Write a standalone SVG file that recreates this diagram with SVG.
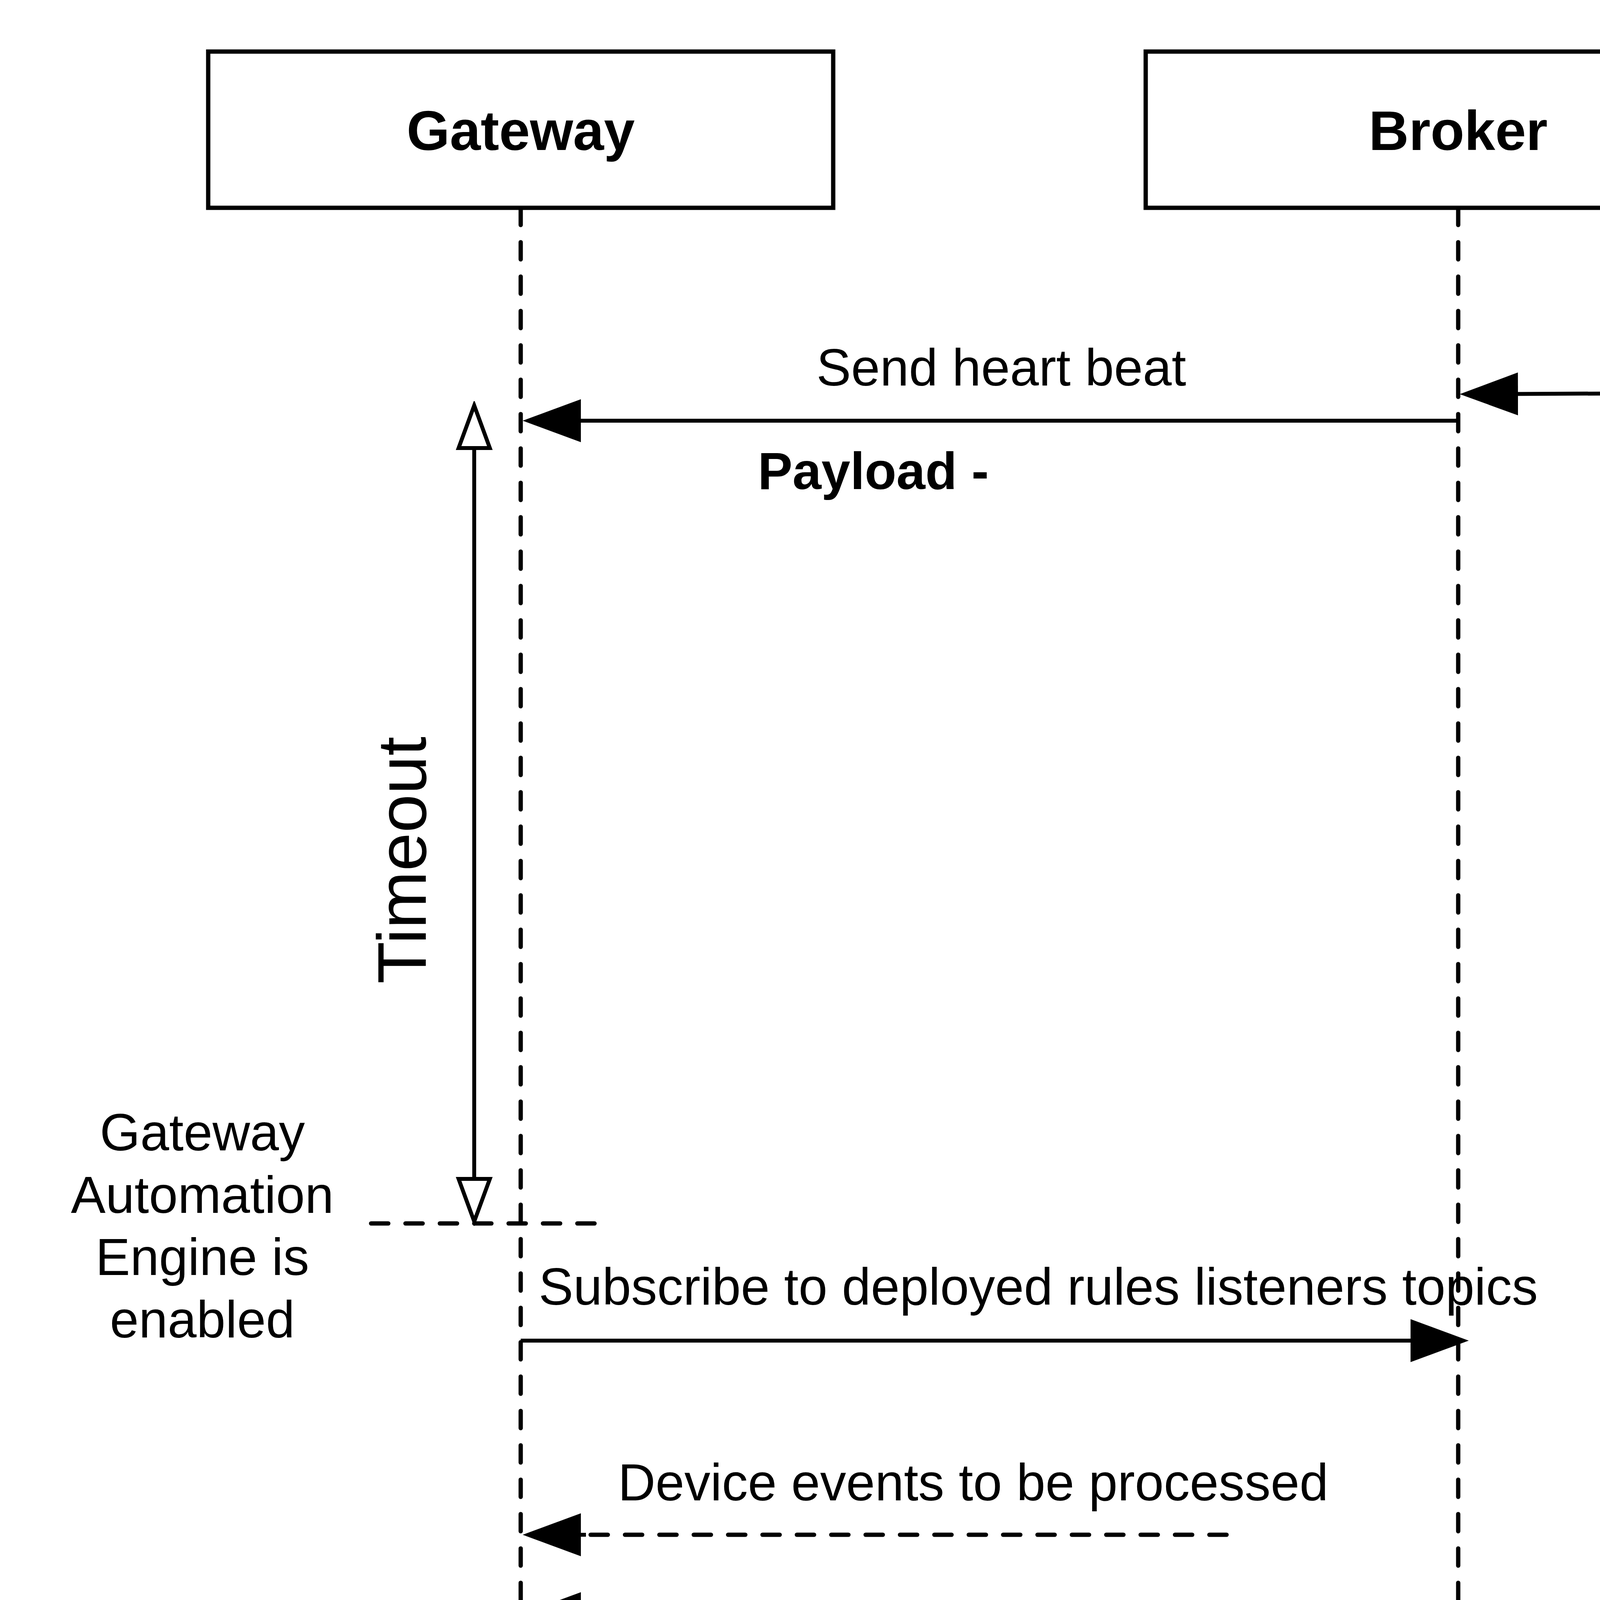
<svg xmlns="http://www.w3.org/2000/svg" width="6755" height="4688" viewBox="0 0 6755 4688">
<style>
text{font-family:"Liberation Sans",Arial,Helvetica,sans-serif;fill:#000}
.title{font-size:142px;font-weight:bold;text-anchor:middle}
.lbl{font-size:133px}
.b{font-weight:bold}
.box{fill:#fff;stroke:#000;stroke-width:11}
.life{fill:none;stroke:#000;stroke-width:11;stroke-dasharray:44 44;stroke-linecap:round}
.msg{fill:none;stroke:#000;stroke-width:10}
.dmsg{fill:none;stroke:#000;stroke-width:11;stroke-dasharray:44 44;stroke-linecap:round}
</style>
<defs>
<marker id="fill" markerUnits="userSpaceOnUse" markerWidth="160" markerHeight="120" viewBox="0 -60 160 120" refX="0" refY="0" orient="auto">
<path d="M0,-55 L149,0 L0,55 Z" fill="#000"/>
</marker>
<marker id="open" markerUnits="userSpaceOnUse" markerWidth="130" markerHeight="110" viewBox="-10 -55 130 110" refX="0" refY="0" orient="auto-start-reverse">
<path d="M0,-40 L109,0 L0,40 Z" fill="#fff" stroke="#000" stroke-width="10"/>
</marker>
</defs>
<rect width="6755" height="4688" fill="#fff"/>

<g id="gateway">
<path class="life" d="M1333,532 V4495"/>
<rect class="box" x="533" y="132" width="1600" height="400"/>
<text class="title" x="1333" y="384">Gateway</text>
</g>
<g id="broker">
<path class="life" d="M3733,532 V4495"/>
<rect class="box" x="2933" y="132" width="1600" height="400"/>
<text class="title" x="3733" y="384">Broker</text>
</g>
<g id="cep-engine">
<path class="life" d="M5833,532 V4495"/>
<rect class="box" x="5033" y="132" width="1600" height="400"/>
<text class="title" x="5833" y="384">CEP Engine</text>
<circle cx="6433" cy="332" r="100" fill="#F67A8B" stroke="#000" stroke-width="11"/>
</g>

<g id="cep-fails">
<path d="M5625,1225 L6041,1641 M6041,1225 L5625,1641" stroke="#BE1E2D" stroke-width="60" stroke-linecap="round" fill="none"/>
<text class="lbl" x="6025" y="1442">CEP fails</text>
</g>

<g id="timeout">
<path class="msg" d="M1214,1147 V3018" marker-start="url(#open)" marker-end="url(#open)"/>
<text transform="translate(1090,2202) rotate(-90)" text-anchor="middle" font-size="177">Timeout</text>
</g>

<g id="automation-enabled">
<path class="dmsg" d="M950,3132 H1538"/>
<text class="lbl" text-anchor="middle"><tspan x="518" y="2945">Gateway</tspan><tspan x="518" y="3105">Automation</tspan><tspan x="518" y="3264">Engine is</tspan><tspan x="518" y="3424">enabled</tspan></text>
</g>

<g id="connectors">
<path class="msg" d="M5833,1000 L3886,1008.4" marker-end="url(#fill)"/>
<path class="msg" d="M3733,1077 H1487" marker-end="url(#fill)"/>
<path class="msg" d="M1333,3432 H3611" marker-end="url(#fill)"/>
<path class="dmsg" d="M3140,3929 H1500"/>
<path d="M1500,3929 H1487" class="msg" marker-end="url(#fill)"/>
<path class="dmsg" d="M3140,4131 H1500"/>
<path d="M1500,4131 H1487" class="msg" marker-end="url(#fill)"/>
</g>

<g id="labels">
<text class="lbl" x="4194" y="909">Publish heart beat</text>
<text class="lbl" x="4138" y="1155"><tspan class="b">Topic</tspan> - /heartbeat/CEP</text>
<text class="lbl" x="4138" y="1308"><tspan class="b">Payload -</tspan></text>
<text class="lbl" x="2090" y="987">Send heart beat</text>
<text class="lbl" x="1940" y="1252"><tspan class="b">Payload -</tspan></text>
<text class="lbl" x="1379" y="3340">Subscribe to deployed rules listeners topics</text>
<text class="lbl" x="1582" y="3841">Device events to be processed</text>
</g>

<g id="continuation">
<rect x="2298" y="4265" width="14" height="14"/>
<rect x="2298" y="4379" width="14" height="14"/>
<rect x="2298" y="4492" width="14" height="14"/>
<path class="dmsg" d="M534,4538 L6637,4526"/>
</g>
</svg>
